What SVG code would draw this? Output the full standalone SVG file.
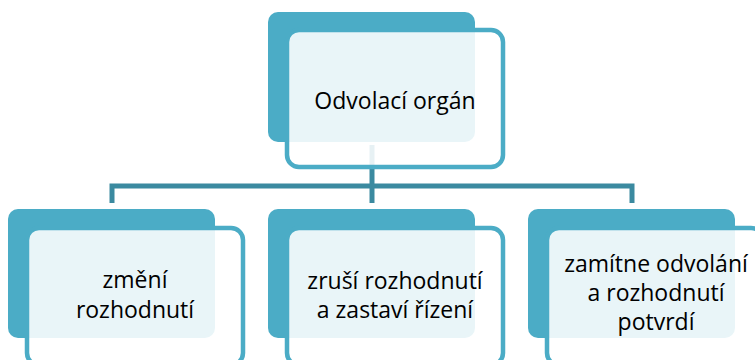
<svg xmlns="http://www.w3.org/2000/svg" width="755" height="360" viewBox="0 0 755 360">
  <style>
    .back { fill: #4BACC6; }
    .front { fill: #FFFFFF; fill-opacity: 0.88; stroke: #4BACC6; stroke-width: 4.5; }
    .lbl { font-family: "Open Sans", "Noto Sans", "DejaVu Sans", sans-serif; font-size: 23px; fill: #000000; text-anchor: middle; }
    .conn { fill: none; stroke: #3B8AA0; stroke-width: 5; stroke-linejoin: miter; stroke-linecap: butt; }
  </style>
  <rect width="755" height="360" fill="#FFFFFF"/>
  <g id="connectors">
    <path class="conn" d="M372,145 V186"/>
    <path class="conn" d="M112,203 V186 H632 V203"/>
    <path class="conn" d="M372,186 V203"/>
  </g>
  <g id="node-odvolaci-organ">
    <rect class="back" x="268" y="12" width="207" height="130" rx="10"/>
    <rect class="front" x="287" y="30" width="216" height="137" rx="12"/>
    <text class="lbl" x="395" y="109">Odvolací orgán</text>
  </g>
  <g id="node-zmeni">
    <rect class="back" x="8" y="209" width="207" height="129" rx="10"/>
    <rect class="front" x="27" y="228" width="216" height="137" rx="12"/>
    <text class="lbl" x="135" y="288">změní</text>
    <text class="lbl" x="135" y="318">rozhodnutí</text>
  </g>
  <g id="node-zrusi">
    <rect class="back" x="268" y="209" width="207" height="129" rx="10"/>
    <rect class="front" x="287" y="228" width="216" height="137" rx="12"/>
    <text class="lbl" x="395" y="289">zruší rozhodnutí</text>
    <text class="lbl" x="395" y="318">a zastaví řízení</text>
  </g>
  <g id="node-zamitne">
    <rect class="back" x="528" y="209" width="207" height="129" rx="10"/>
    <rect class="front" x="547" y="228" width="216" height="137" rx="12"/>
    <text class="lbl" x="656" y="272">zamítne odvolání</text>
    <text class="lbl" x="656" y="301">a rozhodnutí</text>
    <text class="lbl" x="656" y="330">potvrdí</text>
  </g>
</svg>
